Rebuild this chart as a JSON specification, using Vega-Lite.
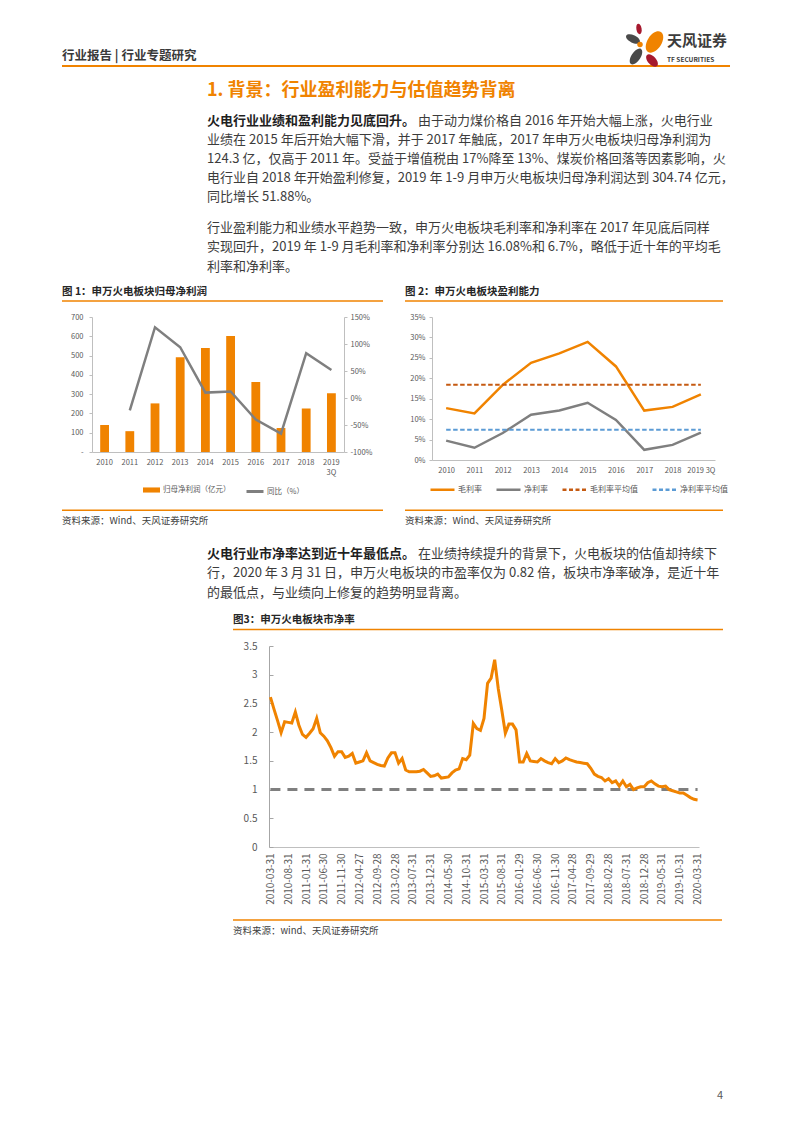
{
  "$schema": "https://vega.github.io/schema/vega-lite/v6.json",
  "padding": 0,
  "background": "white",
  "bounds": "flush",
  "spacing": 0,
  "config": {
    "view": {"stroke": null},
    "font": "Noto Sans CJK SC"
  },
  "vconcat": [
    {
      "width": 793,
      "height": 317,
      "data": {"values": [{}]},
      "layer": [
        {"mark": {"type": "text", "text": "行业报告 | 行业专题研究", "align": "left", "baseline": "alphabetic", "fontSize": 12.5, "fontWeight": "bold", "color": "#3a3a3a"}, "encoding": {"x": {"value": 62}, "y": {"value": 59.5}}},
        {"mark": {"type": "rule", "color": "#f08300", "strokeWidth": 2}, "encoding": {"x": {"value": 62}, "x2": {"value": 730}, "y": {"value": 66}}},
        {"mark": {"type": "point", "shape": "M-1,0A1,0.5,0,1,0,1,0A1,0.5,0,1,0,-1,0Z", "filled": true, "opacity": 1, "strokeWidth": 0, "fill": "#4a4a4a", "size": 225, "angle": 25}, "encoding": {"x": {"value": 633}, "y": {"value": 39}}},
        {"mark": {"type": "point", "shape": "M-1,0A1,0.5,0,1,0,1,0A1,0.5,0,1,0,-1,0Z", "filled": true, "opacity": 1, "strokeWidth": 0, "fill": "#a6192e", "size": 110, "angle": 80}, "encoding": {"x": {"value": 639}, "y": {"value": 29}}},
        {"mark": {"type": "point", "shape": "M-1,0A1,0.6,0,1,0,1,0A1,0.6,0,1,0,-1,0Z", "filled": true, "opacity": 1, "strokeWidth": 0, "fill": "#f08300", "size": 560, "angle": -57}, "encoding": {"x": {"value": 654.5}, "y": {"value": 42}}},
        {"mark": {"type": "point", "shape": "circle", "filled": true, "opacity": 1, "strokeWidth": 0, "fill": "#f08300", "size": 30}, "encoding": {"x": {"value": 640}, "y": {"value": 44.5}}},
        {"mark": {"type": "point", "shape": "M-1,0A1,0.5,0,1,0,1,0A1,0.5,0,1,0,-1,0Z", "filled": true, "opacity": 1, "strokeWidth": 0, "fill": "#4a4a4a", "size": 324, "angle": -56}, "encoding": {"x": {"value": 636}, "y": {"value": 56.5}}},
        {"mark": {"type": "point", "shape": "M-1,0A1,0.55,0,1,0,1,0A1,0.55,0,1,0,-1,0Z", "filled": true, "opacity": 1, "strokeWidth": 0, "fill": "#a6192e", "size": 225, "angle": 48}, "encoding": {"x": {"value": 652}, "y": {"value": 60.5}}},
        {"mark": {"type": "text", "text": "天风证券", "align": "left", "baseline": "alphabetic", "fontSize": 15, "fontWeight": "bold", "color": "#3c3c3c"}, "encoding": {"x": {"value": 667}, "y": {"value": 45.5}}},
        {"mark": {"type": "text", "text": "TF SECURITIES", "align": "left", "baseline": "alphabetic", "fontSize": 6.5, "fontWeight": "bold", "color": "#3c3c3c"}, "encoding": {"x": {"value": 667}, "y": {"value": 61.5}}},
        {"mark": {"type": "text", "text": "1. 背景：行业盈利能力与估值趋势背离", "align": "left", "baseline": "alphabetic", "fontSize": 18, "fontWeight": "bold", "color": "#f08300"}, "encoding": {"x": {"value": 207}, "y": {"value": 95.5}}},
        {"mark": {"type": "text", "text": "火电行业业绩和盈利能力见底回升。", "align": "left", "baseline": "alphabetic", "fontSize": 13, "fontWeight": "bold", "color": "#1f1f1f"}, "encoding": {"x": {"value": 207}, "y": {"value": 125}}},
        {"mark": {"type": "text", "text": "由于动力煤价格自 2016 年开始大幅上涨，火电行业", "align": "left", "baseline": "alphabetic", "fontSize": 13, "color": "#3c3c3c"}, "encoding": {"x": {"value": 418}, "y": {"value": 125}}},
        {"mark": {"type": "text", "text": ["业绩在 2015 年后开始大幅下滑，并于 2017 年触底，2017 年申万火电板块归母净利润为", "124.3 亿，仅高于 2011 年。受益于增值税由 17%降至 13%、煤炭价格回落等因素影响，火", "电行业自 2018 年开始盈利修复，2019 年 1-9 月申万火电板块归母净利润达到 304.74 亿元，", "同比增长 51.88%。"], "lineHeight": 19, "align": "left", "baseline": "alphabetic", "fontSize": 13, "color": "#3c3c3c"}, "encoding": {"x": {"value": 207}, "y": {"value": 144}}},
        {"mark": {"type": "text", "text": ["行业盈利能力和业绩水平趋势一致，申万火电板块毛利率和净利率在 2017 年见底后同样", "实现回升，2019 年 1-9 月毛利率和净利率分别达 16.08%和 6.7%，略低于近十年的平均毛", "利率和净利率。"], "lineHeight": 19.5, "align": "left", "baseline": "alphabetic", "fontSize": 13, "color": "#3c3c3c"}, "encoding": {"x": {"value": 207}, "y": {"value": 231.5}}},
        {"mark": {"type": "text", "text": "图 1：申万火电板块归母净利润", "align": "left", "baseline": "alphabetic", "fontSize": 10.5, "fontWeight": "bold", "color": "#262626"}, "encoding": {"x": {"value": 62}, "y": {"value": 295}}},
        {"mark": {"type": "text", "text": "图 2：申万火电板块盈利能力", "align": "left", "baseline": "alphabetic", "fontSize": 10.5, "fontWeight": "bold", "color": "#262626"}, "encoding": {"x": {"value": 405}, "y": {"value": 295}}},
        {"mark": {"type": "rule", "color": "#f08300", "strokeWidth": 1.5}, "encoding": {"x": {"value": 62}, "x2": {"value": 383}, "y": {"value": 301}}},
        {"mark": {"type": "rule", "color": "#f08300", "strokeWidth": 1.5}, "encoding": {"x": {"value": 405}, "x2": {"value": 723}, "y": {"value": 301}}}
      ]
    },
    {
      "hconcat": [
        {"width": 92, "height": 1, "data": {"values": [{}]}, "mark": {"type": "point", "opacity": 0}},
        {
          "width": 252,
          "height": 135,
          "data": {"values": [
            {"year": "2010", "profit": 140, "yoy": null},
            {"year": "2011", "profit": 108, "yoy": -23},
            {"year": "2012", "profit": 252, "yoy": 131},
            {"year": "2013", "profit": 491, "yoy": 94},
            {"year": "2014", "profit": 539, "yoy": 10},
            {"year": "2015", "profit": 602, "yoy": 12},
            {"year": "2016", "profit": 363, "yoy": -40},
            {"year": "2017", "profit": 124.3, "yoy": -66},
            {"year": "2018", "profit": 226, "yoy": 83},
            {"year": "2019 3Q", "profit": 304.74, "yoy": 51.88}
          ]},
          "layer": [
            {
              "mark": {"type": "bar", "color": "#f08300"},
              "encoding": {
                "x": {"field": "year", "type": "ordinal", "sort": null, "scale": {"type": "band", "paddingInner": 0.65, "paddingOuter": 0.325},
                  "axis": {"title": null, "labelAngle": 0, "labelFontSize": 7.5, "labelColor": "#595959", "ticks": false, "domainColor": "#bfbfbf", "labelPadding": 6, "labelLineHeight": 10.5, "labelOverlap": false, "labelExpr": "datum.value == '2019 3Q' ? ['2019', '3Q'] : datum.label"}},
                "y": {"field": "profit", "type": "quantitative", "scale": {"domain": [0, 700]},
                  "axis": {"title": null, "orient": "left", "values": [0, 100, 200, 300, 400, 500, 600, 700], "labelExpr": "datum.value == 0 ? '-' : datum.label", "labelFontSize": 7.5, "labelColor": "#595959", "tickSize": 3, "tickColor": "#bfbfbf", "domainColor": "#bfbfbf", "labelPadding": 6, "labelOverlap": false, "grid": false}},
                "fill": {"datum": "归母净利润（亿元）", "type": "nominal", "scale": {"domain": ["归母净利润（亿元）"], "range": ["#f08300"]},
                  "legend": {"orient": "none", "legendX": 143, "legendY": 481.5, "title": null, "padding": 0, "symbolType": "M-1,-0.3H1V0.3H-1Z", "symbolSize": 289, "symbolStrokeWidth": 0, "labelFontSize": 7.5, "labelColor": "#595959", "labelOffset": 3}}
              }
            },
            {
              "mark": {"type": "line", "strokeWidth": 2.5},
              "encoding": {
                "x": {"field": "year", "type": "ordinal", "sort": null, "bandPosition": 0.5,
                  "axis": {"title": null, "labelAngle": 0, "labelFontSize": 7.5, "labelColor": "#595959", "ticks": false, "domainColor": "#bfbfbf", "labelPadding": 6, "labelLineHeight": 10.5, "labelOverlap": false, "labelExpr": "datum.value == '2019 3Q' ? ['2019', '3Q'] : datum.label"}},
                "y": {"field": "yoy", "type": "quantitative", "scale": {"domain": [-100, 150]},
                  "axis": {"title": null, "orient": "right", "values": [-100, -50, 0, 50, 100, 150], "labelExpr": "datum.value + '%'", "labelFontSize": 7.5, "labelColor": "#595959", "tickSize": 3, "tickColor": "#bfbfbf", "domainColor": "#bfbfbf", "labelPadding": 3, "labelOverlap": false, "grid": false}},
                "stroke": {"datum": "同比（%）", "type": "nominal", "scale": {"domain": ["同比（%）"], "range": ["#7f7f7f"]},
                  "legend": {"orient": "none", "legendX": 245, "legendY": 481.5, "title": null, "padding": 0, "symbolType": "stroke", "symbolSize": 289, "symbolStrokeWidth": 3, "labelFontSize": 7.5, "labelColor": "#595959", "labelOffset": 2}}
              }
            }
          ],
          "resolve": {"scale": {"y": "independent"}}
        },
        {"width": 88, "height": 1, "data": {"values": [{}]}, "mark": {"type": "point", "opacity": 0}},
        {
          "width": 283,
          "height": 143,
          "layer": [
            {
              "data": {"values": [
                {"year": "2010", "s": "毛利率", "v": 12.7},
                {"year": "2011", "s": "毛利率", "v": 11.4},
                {"year": "2012", "s": "毛利率", "v": 18.4},
                {"year": "2013", "s": "毛利率", "v": 23.8},
                {"year": "2014", "s": "毛利率", "v": 26.1},
                {"year": "2015", "s": "毛利率", "v": 28.9},
                {"year": "2016", "s": "毛利率", "v": 22.9},
                {"year": "2017", "s": "毛利率", "v": 12.1},
                {"year": "2018", "s": "毛利率", "v": 13.0},
                {"year": "2019 3Q", "s": "毛利率", "v": 16.08},
                {"year": "2010", "s": "净利率", "v": 4.75},
                {"year": "2011", "s": "净利率", "v": 3.0},
                {"year": "2012", "s": "净利率", "v": 6.6},
                {"year": "2013", "s": "净利率", "v": 11.1},
                {"year": "2014", "s": "净利率", "v": 12.1},
                {"year": "2015", "s": "净利率", "v": 14.0},
                {"year": "2016", "s": "净利率", "v": 9.8},
                {"year": "2017", "s": "净利率", "v": 2.5},
                {"year": "2018", "s": "净利率", "v": 3.7},
                {"year": "2019 3Q", "s": "净利率", "v": 6.7}
              ]},
              "mark": {"type": "line", "strokeWidth": 2.5},
              "encoding": {
                "x": {"field": "year", "type": "ordinal", "sort": null, "scale": {"type": "point", "padding": 0.5},
                  "axis": {"title": null, "labelAngle": 0, "labelFontSize": 7.5, "labelColor": "#595959", "ticks": false, "domainColor": "#bfbfbf", "labelPadding": 6, "labelOverlap": false}},
                "y": {"field": "v", "type": "quantitative", "scale": {"domain": [0, 35]},
                  "axis": {"title": null, "values": [0, 5, 10, 15, 20, 25, 30, 35], "labelExpr": "datum.value + '%'", "labelFontSize": 7.5, "labelColor": "#595959", "tickSize": 3, "tickColor": "#bfbfbf", "domainColor": "#bfbfbf", "labelPadding": 4, "labelOverlap": false, "grid": false}},
                "color": {"field": "s", "type": "nominal",
                  "scale": {"domain": ["毛利率", "净利率", "毛利率平均值", "净利率平均值"], "range": ["#f08300", "#7f7f7f", "#c55a11", "#5b9bd5"]},
                  "legend": {"orient": "none", "legendX": 429, "legendY": 476, "direction": "horizontal", "title": null, "padding": 0, "symbolType": "stroke", "symbolSize": 576, "symbolStrokeWidth": 2.5, "labelFontSize": 8, "labelColor": "#595959", "labelOffset": 2, "columnPadding": 9,
                    "encode": {"symbols": {"update": {"strokeDash": {"signal": "indexof(datum.value, '平均值') >= 0 ? [4, 2.5] : [1, 0]"}}}}}}
              }
            },
            {
              "data": {"values": [
                {"s": "毛利率平均值", "v": 18.4},
                {"s": "净利率平均值", "v": 7.4}
              ]},
              "mark": {"type": "rule", "strokeWidth": 2, "strokeDash": [4.5, 2.5]},
              "encoding": {
                "x": {"datum": "2010", "type": "ordinal",
                  "axis": {"title": null, "labelAngle": 0, "labelFontSize": 7.5, "labelColor": "#595959", "ticks": false, "domainColor": "#bfbfbf", "labelPadding": 6, "labelOverlap": false}},
                "x2": {"datum": "2019 3Q"},
                "y": {"field": "v", "type": "quantitative",
                  "axis": {"title": null, "values": [0, 5, 10, 15, 20, 25, 30, 35], "labelExpr": "datum.value + '%'", "labelFontSize": 7.5, "labelColor": "#595959", "tickSize": 3, "tickColor": "#bfbfbf", "domainColor": "#bfbfbf", "labelPadding": 4, "labelOverlap": false, "grid": false}},
                "color": {"field": "s", "type": "nominal"}
              }
            }
          ]
        }
      ],
      "bounds": "flush",
      "spacing": 0
    },
    {
      "width": 793,
      "height": 329,
      "data": {"values": [{}]},
      "layer": [
        {"mark": {"type": "rule", "color": "#f08300", "strokeWidth": 1.5}, "encoding": {"x": {"value": 62}, "x2": {"value": 383}, "y": {"value": 193.3}}},
        {"mark": {"type": "rule", "color": "#f08300", "strokeWidth": 1.5}, "encoding": {"x": {"value": 405}, "x2": {"value": 723}, "y": {"value": 193.3}}},
        {"mark": {"type": "text", "text": "资料来源：Wind、天风证券研究所", "align": "left", "baseline": "alphabetic", "fontSize": 9.5, "color": "#404040"}, "encoding": {"x": {"value": 62}, "y": {"value": 207}}},
        {"mark": {"type": "text", "text": "资料来源：Wind、天风证券研究所", "align": "left", "baseline": "alphabetic", "fontSize": 9.5, "color": "#404040"}, "encoding": {"x": {"value": 405}, "y": {"value": 207}}},
        {"mark": {"type": "text", "text": "火电行业市净率达到近十年最低点。", "align": "left", "baseline": "alphabetic", "fontSize": 13, "fontWeight": "bold", "color": "#1f1f1f"}, "encoding": {"x": {"value": 207}, "y": {"value": 240.5}}},
        {"mark": {"type": "text", "text": "在业绩持续提升的背景下，火电板块的估值却持续下", "align": "left", "baseline": "alphabetic", "fontSize": 13, "color": "#3c3c3c"}, "encoding": {"x": {"value": 418}, "y": {"value": 240.5}}},
        {"mark": {"type": "text", "text": ["行，2020 年 3 月 31 日，申万火电板块的市盈率仅为 0.82 倍，板块市净率破净，是近十年", "的最低点，与业绩向上修复的趋势明显背离。"], "lineHeight": 19.5, "align": "left", "baseline": "alphabetic", "fontSize": 13, "color": "#3c3c3c"}, "encoding": {"x": {"value": 207}, "y": {"value": 260}}},
        {"mark": {"type": "text", "text": "图3：申万火电板块市净率", "align": "left", "baseline": "alphabetic", "fontSize": 10.5, "fontWeight": "bold", "color": "#262626"}, "encoding": {"x": {"value": 233}, "y": {"value": 306}}},
        {"mark": {"type": "rule", "color": "#f08300", "strokeWidth": 1.5}, "encoding": {"x": {"value": 233}, "x2": {"value": 723}, "y": {"value": 312.5}}}
      ]
    },
    {
      "hconcat": [
        {"width": 269, "height": 1, "data": {"values": [{}]}, "mark": {"type": "point", "opacity": 0}},
        {
          "width": 430,
          "height": 201,
          "data": {"values": [
            {"d": "2010-03-31", "pb": 2.61}, {"d": "2010-04-30", "pb": 2.40}, {"d": "2010-05-31", "pb": 2.20}, {"d": "2010-06-30", "pb": 1.99},
            {"d": "2010-07-30", "pb": 2.18}, {"d": "2010-08-31", "pb": 2.17}, {"d": "2010-09-30", "pb": 2.16}, {"d": "2010-10-29", "pb": 2.35},
            {"d": "2010-11-30", "pb": 2.12}, {"d": "2010-12-31", "pb": 1.96}, {"d": "2011-01-31", "pb": 1.91}, {"d": "2011-02-28", "pb": 1.98},
            {"d": "2011-03-31", "pb": 2.06}, {"d": "2011-04-29", "pb": 2.24}, {"d": "2011-05-31", "pb": 1.99}, {"d": "2011-06-30", "pb": 1.93},
            {"d": "2011-07-29", "pb": 1.85}, {"d": "2011-08-31", "pb": 1.73}, {"d": "2011-09-30", "pb": 1.58}, {"d": "2011-10-31", "pb": 1.66},
            {"d": "2011-11-30", "pb": 1.66}, {"d": "2011-12-30", "pb": 1.56}, {"d": "2012-01-31", "pb": 1.58}, {"d": "2012-02-29", "pb": 1.63},
            {"d": "2012-03-30", "pb": 1.46}, {"d": "2012-04-27", "pb": 1.48}, {"d": "2012-05-31", "pb": 1.50}, {"d": "2012-06-29", "pb": 1.64},
            {"d": "2012-07-31", "pb": 1.50}, {"d": "2012-08-31", "pb": 1.47}, {"d": "2012-09-28", "pb": 1.44}, {"d": "2012-10-31", "pb": 1.42},
            {"d": "2012-11-30", "pb": 1.41}, {"d": "2012-12-31", "pb": 1.55}, {"d": "2013-01-31", "pb": 1.64}, {"d": "2013-02-28", "pb": 1.64},
            {"d": "2013-03-29", "pb": 1.46}, {"d": "2013-04-26", "pb": 1.54}, {"d": "2013-05-31", "pb": 1.34}, {"d": "2013-06-28", "pb": 1.31},
            {"d": "2013-07-31", "pb": 1.31}, {"d": "2013-08-30", "pb": 1.31}, {"d": "2013-09-30", "pb": 1.32}, {"d": "2013-10-31", "pb": 1.35},
            {"d": "2013-11-29", "pb": 1.29}, {"d": "2013-12-31", "pb": 1.23}, {"d": "2014-01-30", "pb": 1.24}, {"d": "2014-02-28", "pb": 1.27},
            {"d": "2014-03-31", "pb": 1.20}, {"d": "2014-04-30", "pb": 1.21}, {"d": "2014-05-30", "pb": 1.22}, {"d": "2014-06-30", "pb": 1.29},
            {"d": "2014-07-31", "pb": 1.34}, {"d": "2014-08-29", "pb": 1.36}, {"d": "2014-09-30", "pb": 1.54}, {"d": "2014-10-31", "pb": 1.52},
            {"d": "2014-11-28", "pb": 1.60}, {"d": "2014-12-31", "pb": 2.15}, {"d": "2015-01-30", "pb": 2.06}, {"d": "2015-02-27", "pb": 2.03},
            {"d": "2015-03-31", "pb": 2.24}, {"d": "2015-04-30", "pb": 2.85}, {"d": "2015-05-29", "pb": 2.94}, {"d": "2015-06-30", "pb": 3.26},
            {"d": "2015-07-31", "pb": 2.76}, {"d": "2015-08-31", "pb": 2.38}, {"d": "2015-09-30", "pb": 1.98}, {"d": "2015-10-30", "pb": 2.14},
            {"d": "2015-11-30", "pb": 2.14}, {"d": "2015-12-31", "pb": 2.04}, {"d": "2016-01-29", "pb": 1.48}, {"d": "2016-02-29", "pb": 1.48},
            {"d": "2016-03-31", "pb": 1.63}, {"d": "2016-04-29", "pb": 1.50}, {"d": "2016-05-31", "pb": 1.49}, {"d": "2016-06-30", "pb": 1.48},
            {"d": "2016-07-29", "pb": 1.54}, {"d": "2016-08-31", "pb": 1.50}, {"d": "2016-09-30", "pb": 1.47}, {"d": "2016-10-31", "pb": 1.45},
            {"d": "2016-11-30", "pb": 1.54}, {"d": "2016-12-30", "pb": 1.47}, {"d": "2017-01-26", "pb": 1.50}, {"d": "2017-02-28", "pb": 1.55},
            {"d": "2017-03-31", "pb": 1.52}, {"d": "2017-04-28", "pb": 1.50}, {"d": "2017-05-31", "pb": 1.48}, {"d": "2017-06-30", "pb": 1.47},
            {"d": "2017-07-31", "pb": 1.46}, {"d": "2017-08-31", "pb": 1.45}, {"d": "2017-09-29", "pb": 1.37}, {"d": "2017-10-31", "pb": 1.27},
            {"d": "2017-11-30", "pb": 1.23}, {"d": "2017-12-29", "pb": 1.21}, {"d": "2018-01-31", "pb": 1.15}, {"d": "2018-02-28", "pb": 1.19},
            {"d": "2018-03-30", "pb": 1.12}, {"d": "2018-04-27", "pb": 1.15}, {"d": "2018-05-31", "pb": 1.06}, {"d": "2018-06-29", "pb": 1.15},
            {"d": "2018-07-31", "pb": 1.05}, {"d": "2018-08-31", "pb": 1.09}, {"d": "2018-09-28", "pb": 1.00}, {"d": "2018-10-31", "pb": 1.03},
            {"d": "2018-11-30", "pb": 1.05}, {"d": "2018-12-28", "pb": 1.05}, {"d": "2019-01-31", "pb": 1.12}, {"d": "2019-02-28", "pb": 1.15},
            {"d": "2019-03-29", "pb": 1.10}, {"d": "2019-04-30", "pb": 1.06}, {"d": "2019-05-31", "pb": 1.05}, {"d": "2019-06-28", "pb": 1.06},
            {"d": "2019-07-31", "pb": 1.00}, {"d": "2019-08-30", "pb": 0.98}, {"d": "2019-09-30", "pb": 0.96}, {"d": "2019-10-31", "pb": 0.94},
            {"d": "2019-11-29", "pb": 0.94}, {"d": "2019-12-31", "pb": 0.90}, {"d": "2020-01-23", "pb": 0.86}, {"d": "2020-02-28", "pb": 0.83},
            {"d": "2020-03-31", "pb": 0.82}
          ]},
          "encoding": {
            "x": {"field": "d", "type": "ordinal", "sort": null, "scale": {"type": "point", "padding": 0.4},
              "axis": {"title": null, "values": ["2010-03-31", "2010-08-31", "2011-01-31", "2011-06-30", "2011-11-30", "2012-04-27", "2012-09-28", "2013-02-28", "2013-07-31", "2013-12-31", "2014-05-30", "2014-10-31", "2015-03-31", "2015-08-31", "2016-01-29", "2016-06-30", "2016-11-30", "2017-04-28", "2017-09-29", "2018-02-28", "2018-07-31", "2018-12-28", "2019-05-31", "2019-10-31", "2020-03-31"],
                "labelAngle": -90, "labelFontSize": 10, "labelColor": "#595959", "ticks": false, "domainColor": "#bfbfbf", "labelPadding": 6, "labelOverlap": false}}
          },
          "layer": [
            {
              "mark": {"type": "line", "color": "#7f7f7f", "strokeWidth": 3, "strokeDash": [10, 7]},
              "encoding": {
                "y": {"datum": 1, "type": "quantitative", "scale": {"domain": [0, 3.5]},
                  "axis": {"title": null, "values": [0, 0.5, 1, 1.5, 2, 2.5, 3, 3.5], "labelExpr": "datum.value + ''", "labelFontSize": 10, "labelColor": "#595959", "tickSize": -4, "tickColor": "#a6a6a6", "domainColor": "#a6a6a6", "labelPadding": 16, "labelOverlap": false, "grid": false}}
              }
            },
            {
              "mark": {"type": "line", "color": "#f08300", "strokeWidth": 3},
              "encoding": {
                "y": {"field": "pb", "type": "quantitative", "scale": {"domain": [0, 3.5]},
                  "axis": {"title": null, "values": [0, 0.5, 1, 1.5, 2, 2.5, 3, 3.5], "labelExpr": "datum.value + ''", "labelFontSize": 10, "labelColor": "#595959", "tickSize": -4, "tickColor": "#a6a6a6", "domainColor": "#a6a6a6", "labelPadding": 16, "labelOverlap": false, "grid": false}}
              }
            }
          ]
        }
      ],
      "bounds": "flush",
      "spacing": 0
    },
    {
      "width": 793,
      "height": 476,
      "data": {"values": [{}]},
      "layer": [
        {"mark": {"type": "rule", "color": "#f08300", "strokeWidth": 1.5}, "encoding": {"x": {"value": 233}, "x2": {"value": 722}, "y": {"value": 274}}},
        {"mark": {"type": "text", "text": "资料来源：wind、天风证券研究所", "align": "left", "baseline": "alphabetic", "fontSize": 9.5, "color": "#404040"}, "encoding": {"x": {"value": 233}, "y": {"value": 287.5}}},
        {"mark": {"type": "text", "text": "4", "align": "center", "baseline": "alphabetic", "fontSize": 11, "color": "#595959"}, "encoding": {"x": {"value": 720}, "y": {"value": 453}}}
      ]
    }
  ]
}
